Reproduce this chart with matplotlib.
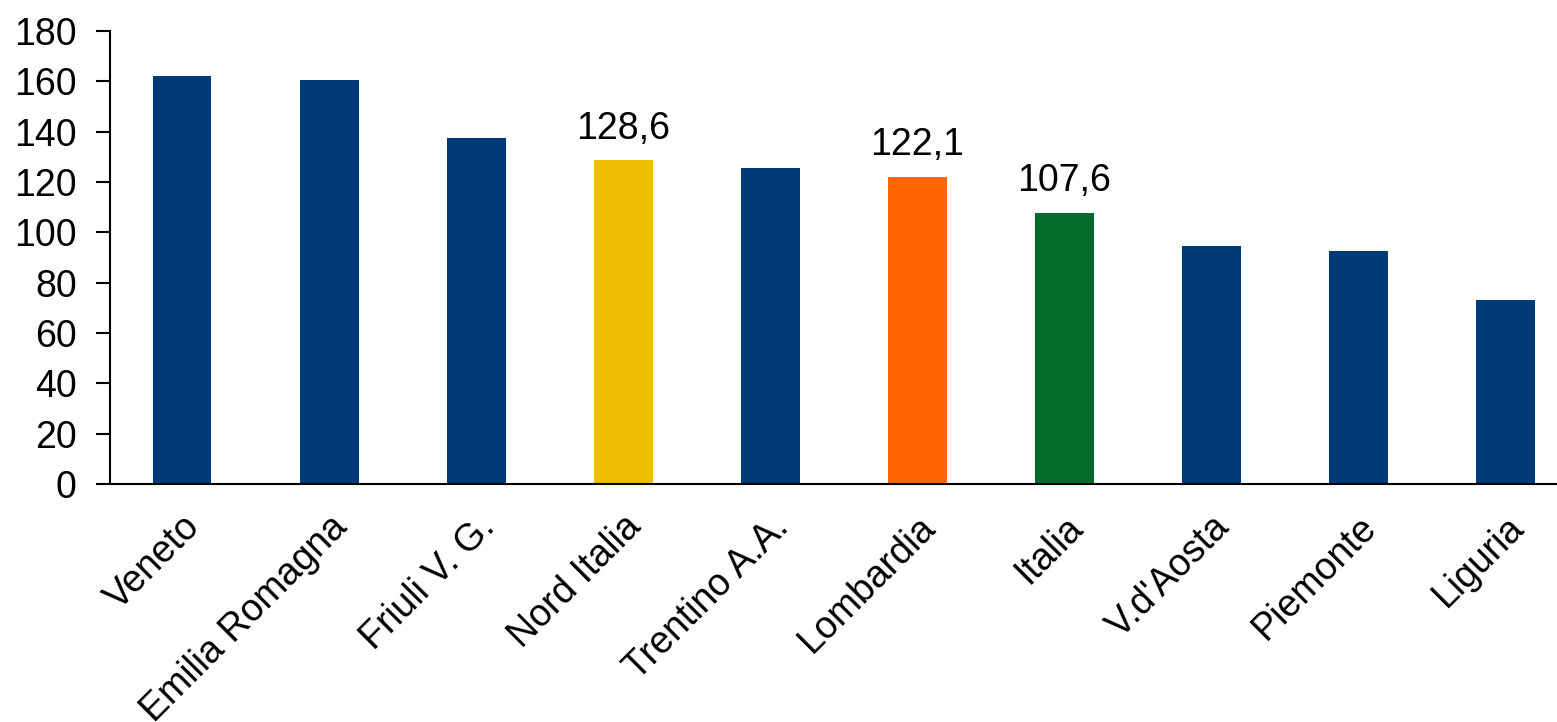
import matplotlib
matplotlib.use("Agg")
import matplotlib.pyplot as plt

plt.rcParams['font.family'] = ['Liberation Sans', 'DejaVu Sans']

categories = ["Veneto", "Emilia Romagna", "Friuli V. G.", "Nord Italia", "Trentino A.A.",
              "Lombardia", "Italia", "V.d'Aosta", "Piemonte", "Liguria"]
values = [162.0, 160.4, 137.5, 128.6, 125.5, 122.1, 107.6, 94.5, 92.6, 73.3]
colors = ["#003A78", "#003A78", "#003A78", "#EDBE00", "#003A78",
          "#FF6600", "#006B2B", "#003A78", "#003A78", "#003A78"]
labelled = {"Nord Italia": "128,6", "Lombardia": "122,1", "Italia": "107,6"}

W, H = 1557, 722
fig = plt.figure(figsize=(W / 100, H / 100), dpi=100)
ax = fig.add_axes([110 / W, (H - 484) / H, (W - 110) / W, (484 - 31) / H])

x = list(range(len(categories)))
ax.bar(x, values, width=0.4, color=colors)
for xi, cat, v in zip(x, categories, values):
    if cat in labelled:
        ax.text(xi, v + 5.5, labelled[cat], ha='center', va='bottom', fontsize=27)

ax.set_ylim(0, 180)
ax.set_yticks(range(0, 181, 20))
ax.set_xlim(-0.49, 9.35)
ax.set_xticks(x)
ax.set_xticklabels(categories, rotation=45, ha='right', rotation_mode='anchor', fontsize=27)
ax.tick_params(axis='y', labelsize=27, length=10, width=1.5, direction='out', pad=14)
ax.tick_params(axis='x', length=0, pad=18)
for s in ['top', 'right']:
    ax.spines[s].set_visible(False)
ax.spines['left'].set_linewidth(1.5)
ax.spines['bottom'].set_linewidth(1.5)

fig.savefig("out.png", dpi=100)
